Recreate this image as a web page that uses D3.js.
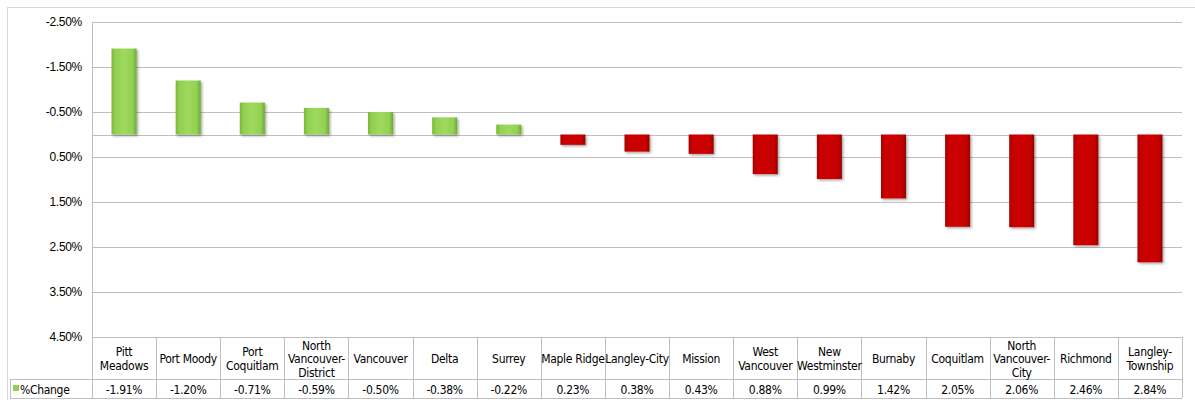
<!DOCTYPE html>
<html>
<head>
<meta charset="utf-8">
<script src="https://cdn.jsdelivr.net/npm/d3@7"></script>
<style>
  html, body { margin: 0; padding: 0; background: #fff; }
  svg { display: block; }
  text { font-family: "Liberation Sans Narrow", "Arial Narrow", "DejaVu Sans Condensed", sans-serif; fill: #000; }
</style>
</head>
<body>
<svg id="chart" width="1195" height="400"></svg>
<script>
const categories = [
  "Pitt Meadows", "Port Moody", "Port Coquitlam", "North Vancouver-District", "Vancouver",
  "Delta", "Surrey", "Maple Ridge", "Langley-City", "Mission", "West Vancouver",
  "New Westminster", "Burnaby", "Coquitlam", "North Vancouver-City", "Richmond", "Langley-Township"
];
const categoryLines = [
  ["Pitt", "Meadows"], ["Port Moody"], ["Port", "Coquitlam"], ["North", "Vancouver-", "District"], ["Vancouver"],
  ["Delta"], ["Surrey"], ["Maple Ridge"], ["Langley-City"], ["Mission"], ["West", "Vancouver"],
  ["New", "Westminster"], ["Burnaby"], ["Coquitlam"], ["North", "Vancouver-", "City"], ["Richmond"], ["Langley-", "Township"]
];
const pctChange = [-1.91, -1.20, -0.71, -0.59, -0.50, -0.38, -0.22, 0.23, 0.38, 0.43, 0.88, 0.99, 1.42, 2.05, 2.06, 2.46, 2.84];
const valueLabels = ["-1.91%", "-1.20%", "-0.71%", "-0.59%", "-0.50%", "-0.38%", "-0.22%", "0.23%", "0.38%", "0.43%", "0.88%", "0.99%", "1.42%", "2.05%", "2.06%", "2.46%", "2.84%"];
const yTicks = [-2.5, -1.5, -0.5, 0.5, 1.5, 2.5, 3.5, 4.5];
const yTickLabels = ["-2.50%", "-1.50%", "-0.50%", "0.50%", "1.50%", "2.50%", "3.50%", "4.50%"];
const seriesName = "%Change";

const svg = d3.select("#chart");
const plot = { left: 92, right: 1182, top: 22, bottom: 337 };
const tableBottom = 398, headerBottom = 379, legendLeft = 10;

// outer chart frame
svg.append("rect").attr("x", 7.5).attr("y", 7.5).attr("width", 1200).attr("height", 420)
  .attr("fill", "none").attr("stroke", "#d9d9d9");

const defs = svg.append("defs");
const gG = defs.append("linearGradient").attr("id", "gGreen").attr("x1", 0).attr("x2", 1).attr("y1", 0).attr("y2", 0);
gG.append("stop").attr("offset", "0").attr("stop-color", "#78b83a");
gG.append("stop").attr("offset", "0.15").attr("stop-color", "#92d050");
gG.append("stop").attr("offset", "0.5").attr("stop-color", "#9ed95e");
gG.append("stop").attr("offset", "0.85").attr("stop-color", "#92d050");
gG.append("stop").attr("offset", "1").attr("stop-color", "#6ea833");
const gR = defs.append("linearGradient").attr("id", "gRed").attr("x1", 0).attr("x2", 1).attr("y1", 0).attr("y2", 0);
gR.append("stop").attr("offset", "0").attr("stop-color", "#a80000");
gR.append("stop").attr("offset", "0.15").attr("stop-color", "#c80000");
gR.append("stop").attr("offset", "0.5").attr("stop-color", "#cc0000");
gR.append("stop").attr("offset", "0.85").attr("stop-color", "#c40000");
gR.append("stop").attr("offset", "1").attr("stop-color", "#960000");
const sh = defs.append("filter").attr("id", "shadow").attr("x", "-20%").attr("y", "-20%").attr("width", "150%").attr("height", "150%");
sh.append("feDropShadow").attr("dx", 1.5).attr("dy", 1.5).attr("stdDeviation", 1).attr("flood-color", "#000").attr("flood-opacity", 0.35);

const x = d3.scaleBand().domain(categories).range([plot.left, plot.right]).paddingInner(0).paddingOuter(0);
const y = d3.scaleLinear().domain([-2.5, 4.5]).range([plot.top, plot.bottom]);

// gridlines
const yAxis = d3.axisLeft(y).tickValues(yTicks).tickSize(-(plot.right - plot.left)).tickPadding(10)
  .tickFormat((d, i) => yTickLabels[i]);
const ga = svg.append("g").attr("transform", `translate(${plot.left},0)`).call(yAxis);
ga.select(".domain").remove();
ga.selectAll(".tick line").attr("stroke", "#bfbfbf").attr("stroke-width", 1);
ga.selectAll(".tick text").attr("font-size", 12).attr("fill", "#000").attr("letter-spacing", "-0.3px")
  .style("font-family", '"Liberation Sans Narrow", "Arial Narrow", sans-serif');

// zero axis line
svg.append("line").attr("x1", plot.left).attr("x2", plot.right).attr("y1", Math.round(y(0)) + 0.5).attr("y2", Math.round(y(0)) + 0.5)
  .attr("stroke", "#bfbfbf");

// bars
const barW = x.bandwidth() * 0.39;
svg.append("g").selectAll("rect").data(pctChange).join("rect")
  .attr("x", (d, i) => x(categories[i]) + (x.bandwidth() - barW) / 2)
  .attr("y", d => Math.min(y(0), y(d)))
  .attr("width", barW)
  .attr("height", d => Math.abs(y(d) - y(0)))
  .attr("fill", d => d < 0 ? "url(#gGreen)" : "url(#gRed)")
  .attr("filter", "url(#shadow)");

// data table
const tg = svg.append("g");
const lineColor = "#bfbfbf";
// left axis line through table
tg.append("line").attr("x1", plot.left + 0.5).attr("x2", plot.left + 0.5).attr("y1", plot.top).attr("y2", tableBottom).attr("stroke", lineColor);
// column separators
categories.forEach((c, i) => {
  const xr = x(c) + x.bandwidth();
  tg.append("line").attr("x1", Math.round(xr) + 0.5).attr("x2", Math.round(xr) + 0.5)
    .attr("y1", plot.bottom).attr("y2", tableBottom).attr("stroke", lineColor);
});
// horizontal lines
tg.append("line").attr("x1", legendLeft).attr("x2", plot.right).attr("y1", headerBottom + 0.5).attr("y2", headerBottom + 0.5).attr("stroke", lineColor);
tg.append("line").attr("x1", legendLeft).attr("x2", plot.right).attr("y1", tableBottom + 0.5).attr("y2", tableBottom + 0.5).attr("stroke", lineColor);
tg.append("line").attr("x1", legendLeft + 0.5).attr("x2", legendLeft + 0.5).attr("y1", headerBottom).attr("y2", tableBottom).attr("stroke", lineColor);

// header labels
const headerMid = (plot.bottom + headerBottom) / 2 + 1;
const lh = 13.5;
categories.forEach((c, i) => {
  const lines = categoryLines[i];
  const cx = x(c) + x.bandwidth() / 2;
  const t = tg.append("text").attr("text-anchor", "middle").attr("font-size", 12).attr("letter-spacing", "-0.3px");
  lines.forEach((ln, k) => {
    t.append("tspan").attr("x", cx)
      .attr("y", headerMid + (k - (lines.length - 1) / 2) * lh)
      .attr("dy", "0.35em").text(ln);
  });
});
// values
categories.forEach((c, i) => {
  tg.append("text").attr("x", x(c) + x.bandwidth() / 2).attr("y", (headerBottom + tableBottom) / 2 + 1)
    .attr("dy", "0.35em").attr("text-anchor", "middle").attr("font-size", 12).attr("letter-spacing", "-0.3px")
    .text(valueLabels[i]);
});
// legend key
tg.append("rect").attr("x", 13).attr("y", 385).attr("width", 6).attr("height", 6).attr("fill", "#92d050");
tg.append("text").attr("x", 20).attr("y", (headerBottom + tableBottom) / 2 + 1).attr("dy", "0.35em")
  .attr("font-size", 12).attr("letter-spacing", "-0.3px").text(seriesName);
</script>
</body>
</html>
